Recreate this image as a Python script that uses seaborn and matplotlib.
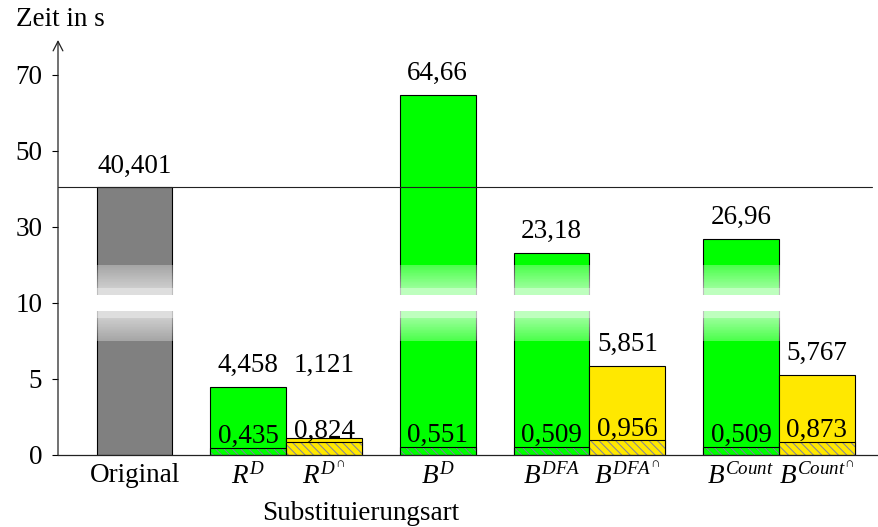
import numpy as np
import pandas as pd
import matplotlib.pyplot as plt
import seaborn as sns

# bar data
categories = ['Original', r'$R^{D}$', r'$R^{D^{\cap}}$', r'$B^{D}$',
              r'$B^{DFA}$', r'$B^{DFA^{\cap}}$', r'$B^{Count}$', r'$B^{Count^{\cap}}$']
positions = [0, 1.5, 2.5, 4, 5.5, 6.5, 8, 9]
kinds = ['orig', 'ref', 'inter', 'ref', 'ref', 'inter', 'ref', 'inter']
times = [40.401, 4.458, 1.121, 64.66, 23.18, 5.851, 26.96, 5.24]
time_labels = ['40,401', '4,458', '1,121', '64,66', '23,18', '5,851', '26,96', '5,767']
inner_times = [0.435, 0.824, 0.551, 0.509, 0.956, 0.509, 0.873]
inner_labels = ['0,435', '0,824', '0,551', '0,509', '0,956', '0,509', '0,873']
yticks = [0, 5, 10, 30, 50, 70]

palette = {'orig': '#808080', 'ref': '#00ff00', 'inter': '#ffe800'}

sns.set_style('white')
plt.rcParams['font.family'] = ['Liberation Serif', 'DejaVu Serif']
plt.rcParams['mathtext.fontset'] = 'custom'
plt.rcParams['mathtext.rm'] = 'Liberation Serif'
plt.rcParams['mathtext.it'] = 'Liberation Serif:italic'
plt.rcParams['font.size'] = 19.5
plt.rcParams['hatch.linewidth'] = 0.7
for key in ['text.color', 'axes.labelcolor', 'xtick.color', 'ytick.color']:
    plt.rcParams[key] = 'black'


# broken axis: linear up to 10, compressed by 4 above
def fwd(y):
    y = np.asarray(y, dtype=float)
    return np.where(y <= 10, y, 10 + (y - 10) / 4)


def inv(t):
    t = np.asarray(t, dtype=float)
    return np.where(t <= 10, t, 10 + (t - 10) * 4)


fig = plt.figure(figsize=(8.79, 5.27), dpi=100)
ax = fig.add_axes([58 / 879, 72 / 527, 821 / 879, 415 / 527])

df = pd.DataFrame({'pos': positions, 'time': times, 'kind': kinds})
sns.barplot(data=df, x='pos', y='time', hue='kind', palette=palette, saturation=1,
            native_scale=True, dodge=False, width=1, errorbar=None, legend=False,
            edgecolor='black', linewidth=0.8, ax=ax)

df_in = pd.DataFrame({'pos': positions[1:], 'time': inner_times, 'kind': kinds[1:]})
sns.barplot(data=df_in, x='pos', y='time', hue='kind', palette=palette, saturation=1,
            native_scale=True, dodge=False, width=1, errorbar=None, legend=False,
            edgecolor='#7f7fa0', linewidth=0, hatch='\\\\\\\\', ax=ax)
ax.bar(df_in['pos'], df_in['time'], width=1, fill=False, edgecolor='black', linewidth=0.8)

ax.set_yscale('function', functions=(fwd, inv))
ax.set_ylim(0, inv(27.3))
ax.set_xlim(-1.01, 9.82)

# white fade around the break at 10
xs = [-0.6, 9.6]
for i in range(30):
    a0, a1 = 2.5 - i * 1.5 / 30, 2.5 - (i + 1) * 1.5 / 30
    alpha = 0.3 + 0.3 * i / 29
    for s in (1, -1):
        lo, hi = sorted([10 + s * a0, 10 + s * a1])
        ax.fill_between(xs, inv(lo), inv(hi), color='white', alpha=alpha, lw=0, zorder=3)
ax.fill_between(xs, inv(9.0), inv(9.5), color='white', alpha=0.75, lw=0, zorder=3)
ax.fill_between(xs, inv(10.5), inv(11.0), color='white', alpha=0.75, lw=0, zorder=3)
ax.fill_between(xs, inv(9.5), inv(10.5), color='white', alpha=1, lw=0, zorder=3)

ax.axhline(times[0], xmin=0, xmax=0.991, color='#222222', lw=0.8, zorder=4)

label_y = list(times)
label_y[2] = times[1]  # 1,121 sits level with 4,458 in the reference
for x, y, lab in zip(positions, label_y, time_labels):
    ax.annotate(lab, (x, y), xytext=(0, 10.8), textcoords='offset points',
                ha='center', va='baseline', zorder=5)
for x, y, lab in zip(positions[1:], inner_times, inner_labels):
    ax.annotate(lab, (x, y), xytext=(0, 3.6), textcoords='offset points',
                ha='center', va='baseline', zorder=5)

ax.set_xticks(positions)
ax.set_xticklabels(categories)
ax.set_yticks(yticks)
ax.set_yticklabels([str(t) for t in yticks])
ax.tick_params(axis='x', length=0, pad=6)
ax.tick_params(axis='y', length=4.3, width=0.8, pad=7, left=True, direction='out')
ax.yaxis.set_minor_locator(plt.NullLocator())

for side in ['top', 'right', 'left']:
    ax.spines[side].set_visible(False)
ax.spines['bottom'].set_color('#222222')
ax.spines['bottom'].set_linewidth(0.9)
ax.annotate('', xy=(0, 1), xytext=(0, 0), xycoords='axes fraction',
            arrowprops=dict(arrowstyle='->,head_length=0.35,head_width=0.18',
                            lw=0.9, color='#222222', shrinkA=0, shrinkB=0))

ax.set_xlabel('Substituierungsart', va='center')
ax.xaxis.set_label_coords(0.369, -0.14)
ax.set_ylabel('')
fig.text(60 / 879, 1 - 19 / 527, 'Zeit in s', ha='center', va='center')

plt.savefig('out.png', dpi=100)
